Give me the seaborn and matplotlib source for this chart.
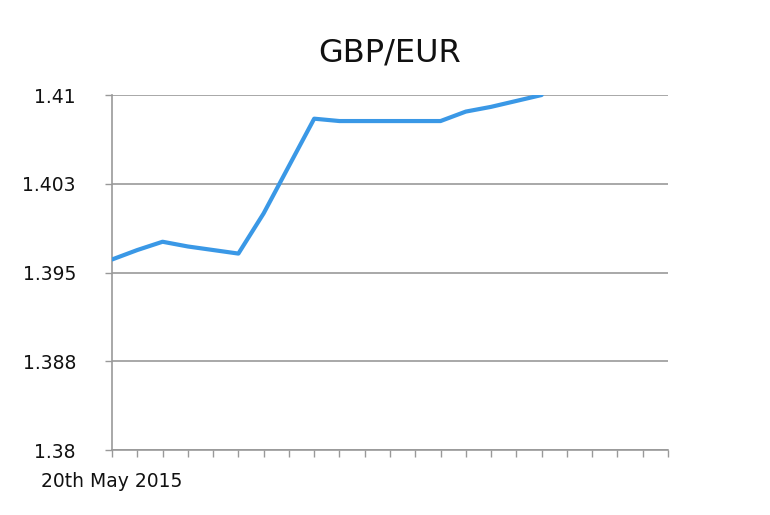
import matplotlib
matplotlib.use("Agg")
import matplotlib.pyplot as plt
import seaborn as sns
import pandas as pd

# Data
x_labels = ["20th May 2015"] + [""] * 22
positions = list(range(len(x_labels)))
rate_values = [1.3961, 1.3969, 1.3976, 1.3972, 1.3969, 1.3966, 1.4000, 1.4040,
               1.4080, 1.4078, 1.4078, 1.4078, 1.4078, 1.4078, 1.4086, 1.4090,
               1.4095, 1.4100]
y_ticks = [1.38, 1.3875, 1.395, 1.4025, 1.41]
y_tick_labels = ["1.38", "1.388", "1.395", "1.403", "1.41"]
title = "GBP/EUR"

df = pd.DataFrame({"pos": positions[:len(rate_values)], "rate": rate_values})

sns.set_theme(style="white")
plt.rcParams["font.family"] = ["DejaVu Sans"]

fig = plt.figure(figsize=(7.7, 5.15), dpi=100)
ax = fig.add_axes([0.1455, 0.1262, 0.722, 0.6893])

sns.lineplot(data=df, x="pos", y="rate", ax=ax, color="#3a98e6", linewidth=3,
             zorder=3)

ax.set_xlim(0, len(x_labels) - 1)
ax.set_ylim(1.38, 1.41)
ax.set_yticks(y_ticks)
ax.set_yticklabels(y_tick_labels, fontsize=13.5, color="#111111")
ax.set_xticks(positions)
ax.set_xticklabels(x_labels, fontsize=13.5, color="#111111")
ax.set_xlabel("")
ax.set_ylabel("")

ax.yaxis.grid(True, color="#999999", linewidth=1.2, zorder=1)
ax.xaxis.grid(False)

for side in ["top", "right"]:
    ax.spines[side].set_visible(False)
for side in ["left", "bottom"]:
    ax.spines[side].set_color("#999999")
    ax.spines[side].set_linewidth(1.2)

ax.tick_params(axis="x", direction="out", length=5, width=1.0, color="#999999",
               bottom=True, pad=11)
ax.tick_params(axis="y", direction="out", length=5, width=1.0, color="#999999",
               left=True, pad=21)

ax.set_title(title, fontsize=23, pad=24, color="#111111")

fig.savefig("out.png", dpi=100)
